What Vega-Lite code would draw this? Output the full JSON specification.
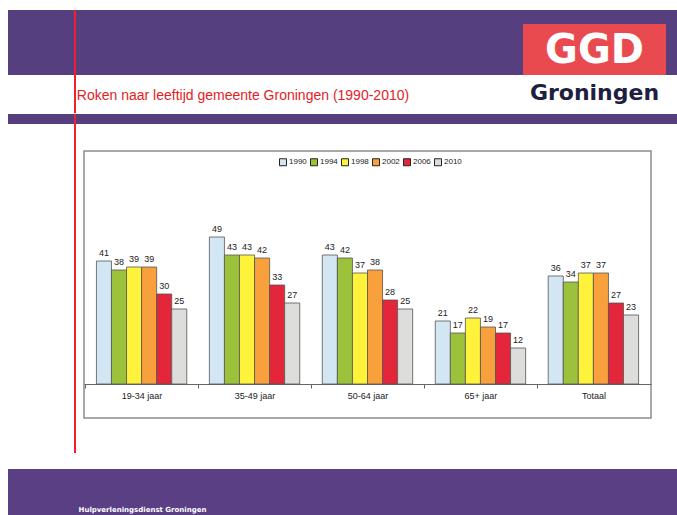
{
  "$schema": "https://vega.github.io/schema/vega-lite/v6.json",
  "background": "white",
  "padding": {"left": 8, "top": 10, "right": 0, "bottom": 0},
  "autosize": {"type": "pad"},
  "config": {"view": {"stroke": null}, "concat": {"spacing": 0}},
  "data": {"values": [{}]},
  "spacing": 0,
  "vconcat": [
    {
      "spacing": 0,
      "hconcat": [
        {"width": 66, "height": 65, "mark": {"type": "text", "text": ""}, "view": {"fill": "#563f7e", "stroke": null}},
        {"width": 2, "height": 65, "mark": {"type": "text", "text": ""}, "view": {"fill": "#f02030", "stroke": null}},
        {"width": 447, "height": 65, "mark": {"type": "text", "text": ""}, "view": {"fill": "#563f7e", "stroke": null}},
        {
          "spacing": 0,
          "vconcat": [
            {"width": 143, "height": 14, "mark": {"type": "text", "text": ""}, "view": {"fill": "#563f7e", "stroke": null}},
            {"width": 143, "height": 51, "mark": {"type": "text", "text": "GGD", "fontSize": 40, "font": "DejaVu Sans", "fontWeight": "bold", "color": "#ffffff", "dy": 1}, "view": {"fill": "#e84a50", "stroke": null}}
          ]
        },
        {"width": 11, "height": 65, "mark": {"type": "text", "text": ""}, "view": {"fill": "#563f7e", "stroke": null}}
      ]
    },
    {
      "spacing": 0,
      "hconcat": [
        {"width": 66, "height": 38, "mark": {"type": "text", "text": ""}, "view": {"fill": "#ffffff", "stroke": null}},
        {"width": 2, "height": 38, "mark": {"type": "text", "text": ""}, "view": {"fill": "#f02030", "stroke": null}},
        {"width": 334, "height": 38, "mark": {"type": "text", "text": "Roken naar leeftijd gemeente Groningen (1990-2010)", "fontSize": 14, "font": "Liberation Sans", "color": "#e3221f", "dy": 2}, "view": {"fill": "#ffffff", "stroke": null}},
        {"width": 113, "height": 38, "mark": {"type": "text", "text": ""}, "view": {"fill": "#ffffff", "stroke": null}},
        {"width": 143, "height": 38, "mark": {"type": "text", "text": "Groningen", "fontSize": 22, "font": "DejaVu Sans", "fontWeight": "bold", "color": "#1e2040", "dy": -1}, "view": {"fill": "#ffffff", "stroke": null}},
        {"width": 11, "height": 38, "mark": {"type": "text", "text": ""}, "view": {"fill": "#ffffff", "stroke": null}}
      ]
    },
    {
      "spacing": 0,
      "hconcat": [
        {"width": 66, "height": 10, "mark": {"type": "text", "text": ""}, "view": {"fill": "#563f7e", "stroke": null}},
        {"width": 2, "height": 10, "mark": {"type": "text", "text": ""}, "view": {"fill": "#f02030", "stroke": null}},
        {"width": 601, "height": 10, "mark": {"type": "text", "text": ""}, "view": {"fill": "#563f7e", "stroke": null}}
      ]
    },
    {
      "spacing": 0,
      "hconcat": [
        {"width": 66, "height": 345, "mark": {"type": "text", "text": ""}, "view": {"fill": "#ffffff", "stroke": null}},
        {
          "spacing": 0,
          "vconcat": [
            {"width": 2, "height": 329, "mark": {"type": "text", "text": ""}, "view": {"fill": "#f02030", "stroke": null}},
            {"width": 2, "height": 16, "mark": {"type": "text", "text": ""}, "view": {"fill": "#ffffff", "stroke": null}}
          ]
        },
        {"width": 7, "height": 345, "mark": {"type": "text", "text": ""}, "view": {"fill": "#ffffff", "stroke": null}},
        {
          "spacing": 0,
          "vconcat": [
            {"width": 567, "height": 26, "mark": {"type": "text", "text": ""}, "view": {"fill": "#ffffff", "stroke": null}},
            {
              "width": 567,
              "height": 267,
              "view": {"stroke": "#8c8c8c", "strokeWidth": 1.5, "fill": "#ffffff"},
              "data": {"values": [
                {"group": "19-34 jaar", "year": "1990", "value": 41},
                {"group": "19-34 jaar", "year": "1994", "value": 38},
                {"group": "19-34 jaar", "year": "1998", "value": 39},
                {"group": "19-34 jaar", "year": "2002", "value": 39},
                {"group": "19-34 jaar", "year": "2006", "value": 30},
                {"group": "19-34 jaar", "year": "2010", "value": 25},
                {"group": "35-49 jaar", "year": "1990", "value": 49},
                {"group": "35-49 jaar", "year": "1994", "value": 43},
                {"group": "35-49 jaar", "year": "1998", "value": 43},
                {"group": "35-49 jaar", "year": "2002", "value": 42},
                {"group": "35-49 jaar", "year": "2006", "value": 33},
                {"group": "35-49 jaar", "year": "2010", "value": 27},
                {"group": "50-64 jaar", "year": "1990", "value": 43},
                {"group": "50-64 jaar", "year": "1994", "value": 42},
                {"group": "50-64 jaar", "year": "1998", "value": 37},
                {"group": "50-64 jaar", "year": "2002", "value": 38},
                {"group": "50-64 jaar", "year": "2006", "value": 28},
                {"group": "50-64 jaar", "year": "2010", "value": 25},
                {"group": "65+ jaar", "year": "1990", "value": 21},
                {"group": "65+ jaar", "year": "1994", "value": 17},
                {"group": "65+ jaar", "year": "1998", "value": 22},
                {"group": "65+ jaar", "year": "2002", "value": 19},
                {"group": "65+ jaar", "year": "2006", "value": 17},
                {"group": "65+ jaar", "year": "2010", "value": 12},
                {"group": "Totaal", "year": "1990", "value": 36},
                {"group": "Totaal", "year": "1994", "value": 34},
                {"group": "Totaal", "year": "1998", "value": 37},
                {"group": "Totaal", "year": "2002", "value": 37},
                {"group": "Totaal", "year": "2006", "value": 27},
                {"group": "Totaal", "year": "2010", "value": 23}
              ]},
              "encoding": {
                "x": {
                  "field": "group", "type": "nominal",
                  "sort": ["19-34 jaar", "35-49 jaar", "50-64 jaar", "65+ jaar", "Totaal"],
                  "scale": {"paddingInner": 0.2, "paddingOuter": 0.11},
                  "axis": {
                    "title": null, "offset": -34, "domainColor": "#666666", "domainWidth": 1,
                    "tickColor": "#666666", "tickSize": 4, "tickOffset": -56.7, "labelOffset": 56.7,
                    "labelFontSize": 9, "labelFont": "Liberation Sans", "labelColor": "#222222",
                    "labelPadding": 3, "labelAngle": 0, "grid": false
                  }
                },
                "xOffset": {"field": "year", "type": "nominal", "sort": ["1990", "1994", "1998", "2002", "2006", "2010"]},
                "y": {"field": "value", "type": "quantitative", "scale": {"domain": [-11.333, 77.667], "nice": false, "zero": false}, "axis": null}
              },
              "layer": [
                {
                  "mark": {"type": "bar", "stroke": "#555555", "strokeWidth": 0.8},
                  "encoding": {
                    "y2": {"datum": 0},
                    "color": {
                      "field": "year", "type": "nominal",
                      "scale": {"domain": ["1990", "1994", "1998", "2002", "2006", "2010"], "range": ["#d2e6f4", "#9cc23c", "#fff23a", "#f8a03c", "#e3263a", "#dddddb"]},
                      "legend": {
                        "orient": "none", "legendX": 271, "legendY": 148, "direction": "horizontal", "columns": 6,
                        "title": null, "symbolType": "square", "symbolSize": 49, "symbolStrokeColor": "#222222",
                        "symbolStrokeWidth": 1, "labelFontSize": 8, "labelFont": "Liberation Sans", "labelColor": "#222222",
                        "columnPadding": 1, "labelOffset": 2
                      }
                    }
                  }
                },
                {
                  "mark": {"type": "text", "dy": -8, "fontSize": 9, "font": "Liberation Sans", "color": "#222222"},
                  "encoding": {"text": {"field": "value", "type": "quantitative"}}
                }
              ]
            },
            {"width": 567, "height": 50, "mark": {"type": "text", "text": ""}, "view": {"fill": "#ffffff", "stroke": null}}
          ]
        },
        {"width": 27, "height": 345, "mark": {"type": "text", "text": ""}, "view": {"fill": "#ffffff", "stroke": null}}
      ]
    },
    {
      "spacing": 0,
      "hconcat": [
        {"width": 67, "height": 47, "mark": {"type": "text", "text": ""}, "view": {"fill": "#5a3f84", "stroke": null}},
        {
          "spacing": 0,
          "vconcat": [
            {"width": 135, "height": 36, "mark": {"type": "text", "text": ""}, "view": {"fill": "#5a3f84", "stroke": null}},
            {"width": 135, "height": 10, "mark": {"type": "text", "text": "Hulpverleningsdienst Groningen", "fontSize": 7, "font": "DejaVu Sans", "fontWeight": "bold", "color": "#ffffff"}, "view": {"fill": "#5a3f84", "stroke": null}},
            {"width": 135, "height": 1, "mark": {"type": "text", "text": ""}, "view": {"fill": "#5a3f84", "stroke": null}}
          ]
        },
        {"width": 467, "height": 47, "mark": {"type": "text", "text": ""}, "view": {"fill": "#5a3f84", "stroke": null}}
      ]
    }
  ]
}
